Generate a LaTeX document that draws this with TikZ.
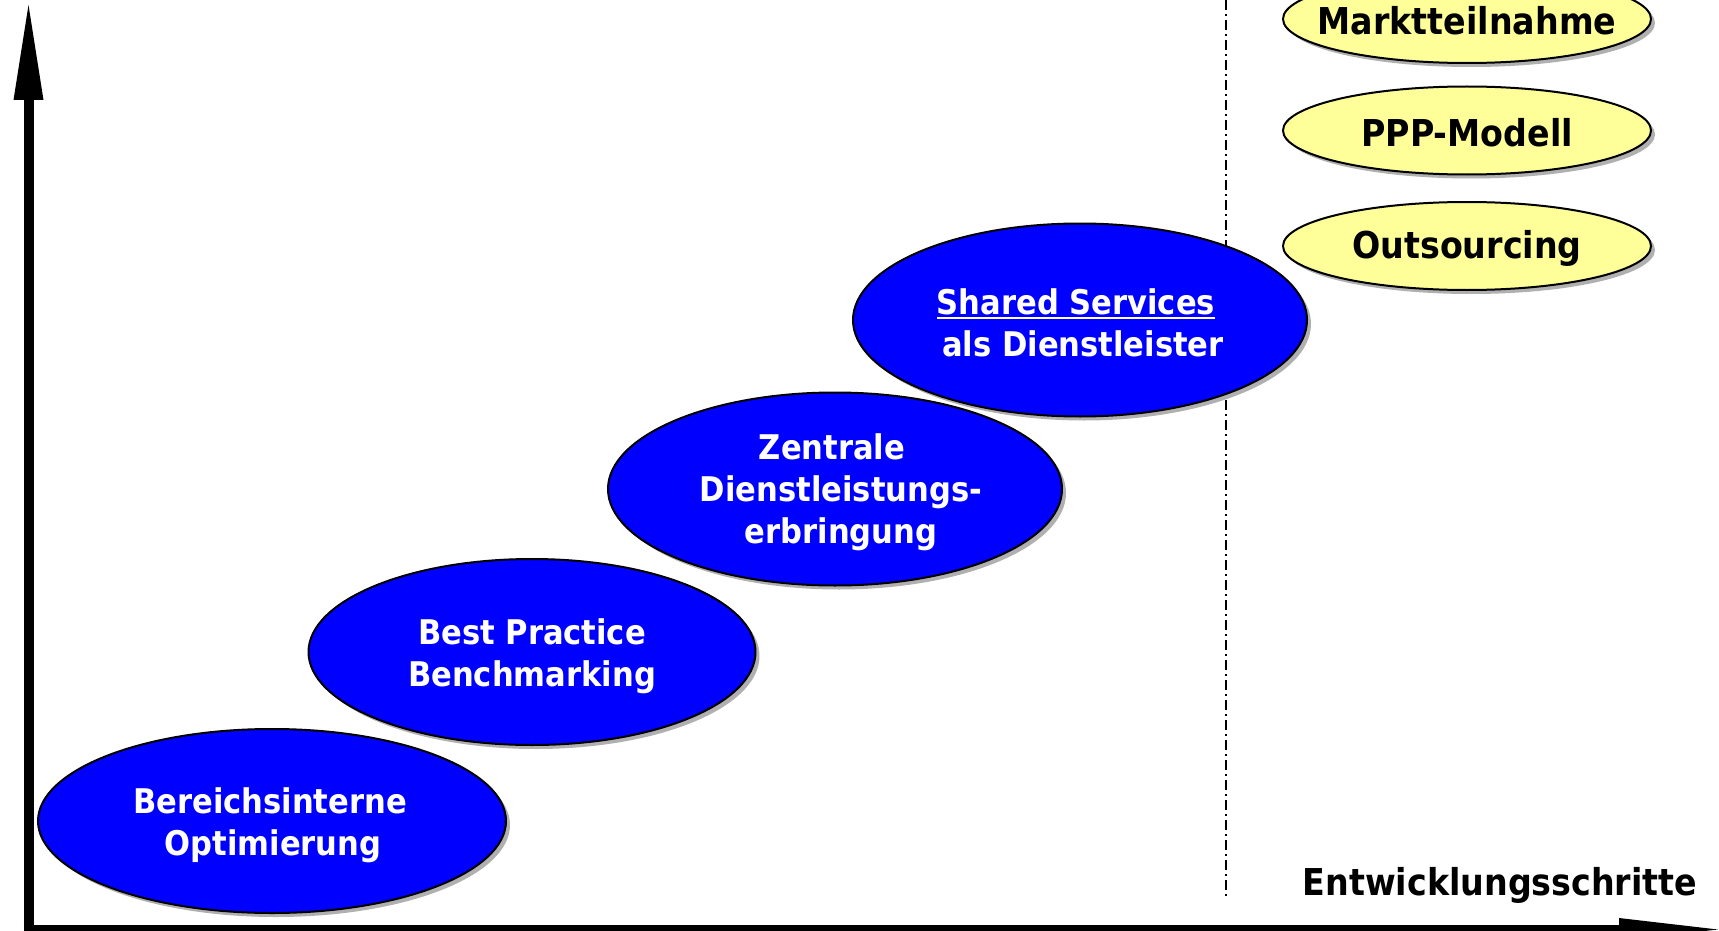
\documentclass[tikz,border=0pt]{standalone}
\usepackage{fontspec}
\setmainfont{DejaVu Sans Condensed}
\usetikzlibrary{shapes.geometric,shadows}
\definecolor{stageblue}{RGB}{0,0,255}
\definecolor{optyellow}{RGB}{255,255,153}
\definecolor{shadowgray}{RGB}{176,176,176}
\newlength\myulw
\newcommand\myul[1]{\settowidth{\myulw}{#1}\rlap{\rule[-4.5pt]{\myulw}{2.6pt}}#1}
\begin{document}
\begin{tikzpicture}[x=1pt,y=-1pt,
  shadowed/.style={drop shadow={shadow xshift=4pt,shadow yshift=-4pt,fill=shadowgray,opacity=1}},
  stage/.style={ellipse,draw=black,line width=2pt,fill=stageblue,inner sep=0pt,shadowed},
  stagetext/.style={text=white,font=\bfseries\fontsize{34}{42}\selectfont,align=center,inner sep=0pt},
  option/.style={ellipse,draw=black,line width=2pt,fill=optyellow,inner sep=0pt,
    minimum width=368pt,minimum height=88pt,shadowed},
  opttext/.style={text=black,font=\bfseries\fontsize{37}{44}\selectfont,inner sep=0pt},
  axislabel/.style={font=\bfseries\fontsize{37}{44}\selectfont,text=black,inner sep=0pt},
  axisline/.style={line width=10pt,black},
  separator/.style={line width=2pt,black,dash pattern=on 10pt off 4pt on 2pt off 4pt}]
\useasboundingbox (0,0) rectangle (1719,931);
% separator line
\coordinate (septop) at (1225.5,0);
\coordinate (sepbot) at (1225.5,897);
\draw[separator] (septop) -- (sepbot);
% axes
\coordinate (origin) at (28.5,929.5);
\coordinate (ybase) at (28.5,100);
\coordinate (ytip) at (28.5,5);
\coordinate (xbase) at (1619,929.5);
\coordinate (xtip) at (1718,929.5);
\draw[axisline] ([yshift=5pt]origin) -- (ybase);
\fill[black] ([xshift=-15pt]ybase) -- (ytip) -- ([xshift=15pt]ybase) -- cycle;
\draw[axisline] ([xshift=-5pt]origin) -- (xbase);
\fill[black] ([yshift=11.5pt]xbase) -- (xtip) -- ([yshift=-11.5pt]xbase) -- cycle;
% stages
\node[stage,minimum width=468pt,minimum height=184pt] (e1) at (272,821) {};
\node[stagetext] (t1) at ([xshift=-2pt,yshift=-4pt]e1.center) {Bereichsinterne\\\hspace*{6pt}Optimierung};
\node[stage,minimum width=447pt,minimum height=186pt] (e2) at (532,652) {};
\node[stagetext] (t2) at ([yshift=-4pt]e2.center) {Best Practice\\Benchmarking};
\node[stage,minimum width=454pt,minimum height=193pt] (e3) at (835,489) {};
\node[stagetext] (t3) at ([xshift=6pt,yshift=-3pt]e3.center) {Zentrale\hspace*{18pt}\\Dienstleistungs-\\erbringung};
\node[stage,minimum width=454pt,minimum height=193pt] (e4) at (1080,320) {};
\node[stagetext] (t4) at ([xshift=-4pt,yshift=-3pt]e4.center) {\myul{Shared Services}\\\hspace*{14pt}als Dienstleister};
% options
\node[option] (o1) at (1467,19) {};
\node[opttext] (t5) at ([yshift=-2pt]o1.center) {Marktteilnahme};
\node[option] (o2) at (1467,130.5) {};
\node[opttext] (t6) at ([yshift=-2pt]o2.center) {PPP-Modell};
\node[option] (o3) at (1467,246) {};
\node[opttext] (t7) at ([yshift=-2pt]o3.center) {Outsourcing};
% axis label
\node[axislabel] (xlabel) at (1500,885) {Entwicklungsschritte};
\end{tikzpicture}
\end{document}
